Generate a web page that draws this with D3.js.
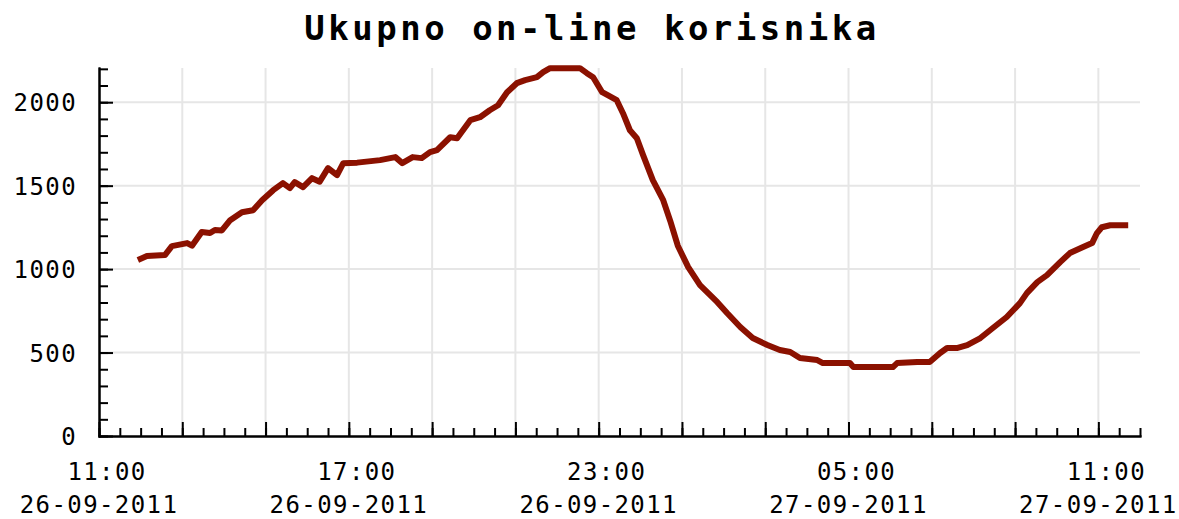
<!DOCTYPE html>
<html>
<head>
<meta charset="utf-8">
<script src="https://cdn.jsdelivr.net/npm/d3@7"></script>
<style>
  body { margin: 0; background: #fff; }
  text { font-family: "DejaVu Sans Mono", monospace; fill: #000; }
</style>
</head>
<body>
<svg id="chart" width="1179" height="519"></svg>
<script>
var chartTitle = 'Ukupno on-line korisnika';

// sample times and on-line users at each time
var times = [
  '2011-09-26 11:56', '2011-09-26 12:09', '2011-09-26 12:35', '2011-09-26 12:45',
  '2011-09-26 13:07', '2011-09-26 13:14', '2011-09-26 13:28', '2011-09-26 13:40',
  '2011-09-26 13:47', '2011-09-26 13:57', '2011-09-26 14:09', '2011-09-26 14:26',
  '2011-09-26 14:42', '2011-09-26 14:55', '2011-09-26 15:11', '2011-09-26 15:25',
  '2011-09-26 15:35', '2011-09-26 15:42', '2011-09-26 15:54', '2011-09-26 16:07',
  '2011-09-26 16:18', '2011-09-26 16:30', '2011-09-26 16:43', '2011-09-26 16:52',
  '2011-09-26 17:12', '2011-09-26 17:45', '2011-09-26 18:07', '2011-09-26 18:17',
  '2011-09-26 18:32', '2011-09-26 18:45', '2011-09-26 18:57', '2011-09-26 19:07',
  '2011-09-26 19:26', '2011-09-26 19:36', '2011-09-26 19:55', '2011-09-26 20:09',
  '2011-09-26 20:23', '2011-09-26 20:35', '2011-09-26 20:48', '2011-09-26 21:02',
  '2011-09-26 21:14', '2011-09-26 21:31', '2011-09-26 21:40', '2011-09-26 21:50',
  '2011-09-26 22:33', '2011-09-26 22:43', '2011-09-26 22:52', '2011-09-26 23:05',
  '2011-09-26 23:13', '2011-09-26 23:26', '2011-09-26 23:35', '2011-09-26 23:45',
  '2011-09-26 23:55', '2011-09-27 00:04', '2011-09-27 00:18', '2011-09-27 00:33',
  '2011-09-27 00:43', '2011-09-27 00:54', '2011-09-27 01:09', '2011-09-27 01:26',
  '2011-09-27 01:51', '2011-09-27 02:05', '2011-09-27 02:24', '2011-09-27 02:42',
  '2011-09-27 03:03', '2011-09-27 03:21', '2011-09-27 03:36', '2011-09-27 03:50',
  '2011-09-27 04:15', '2011-09-27 04:23', '2011-09-27 05:02', '2011-09-27 05:07',
  '2011-09-27 06:04', '2011-09-27 06:10', '2011-09-27 06:39', '2011-09-27 06:57',
  '2011-09-27 07:12', '2011-09-27 07:22', '2011-09-27 07:36', '2011-09-27 07:51',
  '2011-09-27 08:10', '2011-09-27 08:28', '2011-09-27 08:48', '2011-09-27 09:07',
  '2011-09-27 09:17', '2011-09-27 09:32', '2011-09-27 09:46', '2011-09-27 10:05',
  '2011-09-27 10:19', '2011-09-27 10:38', '2011-09-27 10:51', '2011-09-27 10:58',
  '2011-09-27 11:05', '2011-09-27 11:17', '2011-09-27 11:43'
];
var users = [
  1054, 1078, 1084, 1138,
  1156, 1140, 1222, 1216,
  1234, 1232, 1293, 1341,
  1353, 1413, 1473, 1515,
  1485, 1521, 1491, 1545,
  1524, 1605, 1563, 1635,
  1638, 1653, 1671, 1635,
  1671, 1665, 1701, 1713,
  1790, 1784, 1892, 1910,
  1952, 1982, 2060, 2114,
  2132, 2150, 2180, 2204,
  2204, 2174, 2150, 2060,
  2042, 2012, 1934, 1832,
  1784, 1683, 1533, 1413,
  1290, 1140, 1012, 904,
  802, 737, 653, 587,
  545, 515, 503, 467,
  455, 437, 437, 413,
  413, 437, 443, 443,
  497, 527, 527, 545,
  587, 647, 713, 796,
  856, 922, 964, 1042,
  1096, 1132, 1156, 1216,
  1251, 1263, 1263
];

var yMajorTicks = [0, 500, 1000, 1500, 2000];
var xLabelTimes = ['2011-09-26 11:00', '2011-09-26 17:00', '2011-09-26 23:00',
                   '2011-09-27 05:00', '2011-09-27 11:00'];
var xDomain = ['2011-09-26 11:00', '2011-09-27 12:00'];
var yMax = 2205;

(function () {
  var parse = d3.timeParse('%Y-%m-%d %H:%M'),
      svg = d3.select('#chart'),
      left = 99, right = 1140, top = 68, bottom = 436,
      lineColor = '#8b1100', gridColor = '#e6e6e6';

  var data = times.map(function (t, i) {
    return {t: parse(t), v: users[i]};
  });

  var x = d3.scaleTime()
    .domain(xDomain.map(parse))
    .range([left, right]);
  var y = d3.scaleLinear()
    .domain([0, yMax])
    .range([bottom, top]);

  var tEnd = d3.timeMinute.offset(x.domain()[1], 1);
  // every 2 hours counted from the start (11:00, 13:00, ...), minor every 30 min
  var majorX = d3.timeHour.range(x.domain()[0], tEnd, 2);
  var minorX = d3.timeMinute.range(x.domain()[0], tEnd, 30);
  var minorY = d3.range(0, yMax, 100);

  svg.append('rect')
    .attr('width', 1179).attr('height', 519).attr('fill', '#fff');

  // title
  svg.append('text')
    .attr('x', 592).attr('y', 40)
    .attr('text-anchor', 'middle')
    .style('font-size', '34px')
    .style('font-weight', 'bold')
    .style('letter-spacing', '3.5px')
    .text(chartTitle);

  // grid
  var grid = svg.append('g')
    .attr('stroke', gridColor)
    .attr('stroke-width', 2);
  grid.selectAll('line.v')
    .data(majorX.filter(function (d) { return x(d) > left + 1; }))
    .enter().append('line')
      .attr('class', 'v')
      .attr('x1', function (d) { return x(d); })
      .attr('x2', function (d) { return x(d); })
      .attr('y1', top).attr('y2', bottom);
  grid.selectAll('line.h')
    .data(yMajorTicks.filter(function (d) { return d > 0; }))
    .enter().append('line')
      .attr('class', 'h')
      .attr('x1', left).attr('x2', right)
      .attr('y1', function (d) { return y(d); })
      .attr('y2', function (d) { return y(d); });

  // data line
  var line = d3.line()
    .x(function (d) { return x(d.t); })
    .y(function (d) { return y(d.v); });
  svg.append('path')
    .datum(data)
    .attr('d', line)
    .attr('fill', 'none')
    .attr('stroke', lineColor)
    .attr('stroke-width', 6)
    .attr('stroke-linejoin', 'round')
    .attr('stroke-linecap', 'butt');

  // y axis: minor then major ticks (drawn inside the plot)
  var yMinorAxis = svg.append('g')
    .attr('transform', 'translate(' + left + ',0)')
    .call(d3.axisLeft(y).tickValues(minorY).tickSize(-9).tickSizeOuter(0).tickFormat(''));
  var yAxis = svg.append('g')
    .attr('transform', 'translate(' + left + ',0)')
    .call(d3.axisLeft(y).tickValues(yMajorTicks).tickSize(-14).tickSizeOuter(0)
      .tickPadding(22).tickFormat(d3.format('d')));

  // x axis
  var xMinorAxis = svg.append('g')
    .attr('transform', 'translate(0,' + bottom + ')')
    .call(d3.axisBottom(x).tickValues(minorX).tickSize(-8).tickSizeOuter(0).tickFormat(''));
  var xAxis = svg.append('g')
    .attr('transform', 'translate(0,' + bottom + ')')
    .call(d3.axisBottom(x).tickValues(majorX).tickSize(-14).tickSizeOuter(0).tickFormat(''));

  [yMinorAxis, yAxis, xMinorAxis, xAxis].forEach(function (g) {
    g.selectAll('path, line').attr('stroke', '#000').attr('stroke-width', 2);
    g.select('.domain').attr('stroke-linecap', 'square');
  });
  yAxis.selectAll('text')
    .attr('dy', '0.36em')
    .style('font-size', '24px')
    .style('letter-spacing', '1.4px')
    .attr('font-family', null);

  // x labels: time and date on two lines
  var fmtTime = d3.timeFormat('%H:%M'),
      fmtDate = d3.timeFormat('%d-%m-%Y');
  var lbl = svg.append('g').selectAll('g')
    .data(xLabelTimes.map(parse))
    .enter().append('g')
      .attr('transform', function (d) { return 'translate(' + x(d) + ',0)'; });
  lbl.append('text')
    .attr('x', 8).attr('y', 480)
    .attr('text-anchor', 'middle')
    .style('font-size', '24px')
    .style('letter-spacing', '1.4px')
    .text(fmtTime);
  lbl.append('text')
    .attr('x', 0).attr('y', 513)
    .attr('text-anchor', 'middle')
    .style('font-size', '24px')
    .style('letter-spacing', '1.4px')
    .text(fmtDate);
})();
</script>
</body>
</html>
